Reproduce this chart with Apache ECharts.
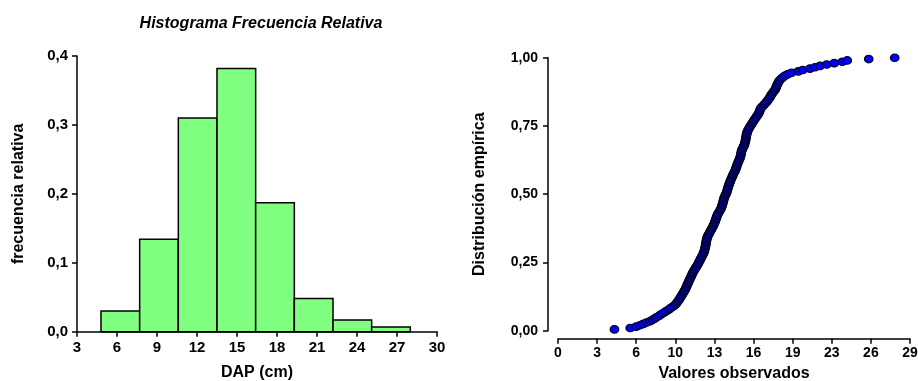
<!DOCTYPE html>
<html>
<head>
<meta charset="utf-8">
<script src="https://cdn.jsdelivr.net/npm/echarts@6/dist/echarts.min.js"></script>
<style>
  html, body { margin: 0; padding: 0; background: #ffffff; }
  #chart { width: 918px; height: 381px; }
</style>
</head>
<body>
<div id="chart"></div>
<script>
// Histogram: bin edges (cm) and relative frequency per bin
const binEdges = [4.8, 7.7, 10.6, 13.5, 16.4, 19.3, 22.2, 25.1, 28.0];
const relFreq = [0.030, 0.134, 0.310, 0.382, 0.187, 0.048, 0.017, 0.007];

// Sorted DAP observations used for the empirical distribution
const observed = [
  4.65, 5.95, 6.45, 6.75, 7.03, 7.30, 7.60, 7.80, 7.98, 8.15,
  8.35, 8.50, 8.68, 8.85, 9.05, 9.20, 9.35, 9.52, 9.66, 9.75,
  9.84, 9.92, 10.00, 10.06, 10.13, 10.20, 10.27, 10.34, 10.40, 10.47,
  10.52, 10.57, 10.62, 10.67, 10.72, 10.77, 10.82, 10.87, 10.93, 10.98,
  11.03, 11.08, 11.14, 11.20, 11.27, 11.34, 11.41, 11.48, 11.54, 11.60,
  11.66, 11.71, 11.77, 11.83, 11.89, 11.95, 12.00, 12.04, 12.07, 12.10,
  12.13, 12.15, 12.17, 12.19, 12.21, 12.23, 12.25, 12.28, 12.32, 12.38,
  12.44, 12.50, 12.56, 12.62, 12.68, 12.74, 12.80, 12.85, 12.90, 12.94,
  12.98, 13.02, 13.06, 13.10, 13.14, 13.20, 13.27, 13.34, 13.40, 13.45,
  13.49, 13.53, 13.56, 13.59, 13.62, 13.65, 13.68, 13.72, 13.77, 13.83,
  13.88, 13.92, 13.95, 13.98, 14.01, 14.05, 14.09, 14.13, 14.17, 14.21,
  14.26, 14.31, 14.36, 14.41, 14.46, 14.52, 14.58, 14.62, 14.66, 14.70,
  14.74, 14.78, 14.82, 14.87, 14.92, 14.97, 15.01, 15.04, 15.07, 15.09,
  15.11, 15.13, 15.18, 15.24, 15.30, 15.35, 15.38, 15.41, 15.44, 15.46,
  15.48, 15.50, 15.52, 15.54, 15.57, 15.61, 15.66, 15.72, 15.78, 15.85,
  15.93, 16.00, 16.07, 16.14, 16.21, 16.29, 16.37, 16.45, 16.52, 16.58,
  16.62, 16.66, 16.70, 16.80, 16.92, 17.02, 17.12, 17.22, 17.30, 17.38,
  17.46, 17.52, 17.58, 17.66, 17.75, 17.84, 17.91, 17.96, 18.00, 18.05,
  18.10, 18.15, 18.22, 18.32, 18.45, 18.58, 18.72, 18.95, 19.25, 19.80,
  20.16, 20.76, 21.18, 21.59, 22.14, 22.76, 23.42, 23.83, 25.60, 27.74
];

// Axis ranges and tick spacing
const histX = { min: 3, max: 30, interval: 3 };
const histY = { min: 0, max: 0.4, interval: 0.1 };
const ecdfXMax = 29;
const ecdfXTickCount = 9;
const ecdfY = { min: 0, max: 1, interval: 0.25 };

const ecdfXTicks = [];
for (let k = 0; k <= ecdfXTickCount; k++) ecdfXTicks.push(k * ecdfXMax / ecdfXTickCount);

const FONT = '"Liberation Sans", Arial, sans-serif';
const black = '#000000';

function axisStyle(fontSize, margin) {
  return {
    axisLine: { show: true, onZero: false, lineStyle: { color: black, width: 1.5 } },
    axisTick: { show: true, length: 5, lineStyle: { color: black, width: 1.5 } },
    axisLabel: { color: black, fontFamily: FONT, fontWeight: 'bold', fontSize: fontSize, margin: margin },
    splitLine: { show: false },
    nameTextStyle: { color: black, fontFamily: FONT, fontWeight: 'bold', fontSize: 16 }
  };
}

const chart = echarts.init(document.getElementById('chart'), null, { renderer: 'canvas' });

const histData = relFreq.map((v, i) => [binEdges[i], binEdges[i + 1], v]);
const ecdfData = observed.map((v, i) => [v, (i + 1) / observed.length]);

const histXAxis = Object.assign(axisStyle(15, 9), {
  type: 'value', gridIndex: 0,
  min: histX.min, max: histX.max, interval: histX.interval,
  name: 'DAP (cm)', nameLocation: 'middle', nameGap: 33
});
const ecdfXAxis = Object.assign(axisStyle(14, 7), {
  type: 'value', gridIndex: 1, offset: 8,
  min: 0, max: ecdfXMax,
  name: 'Valores observados', nameLocation: 'middle', nameGap: 27
});
ecdfXAxis.axisTick.customValues = ecdfXTicks;
ecdfXAxis.axisLabel.customValues = ecdfXTicks;
ecdfXAxis.axisLabel.formatter = v => String(Math.round(v));

const histYAxis = Object.assign(axisStyle(15, 9), {
  type: 'value', gridIndex: 0,
  min: histY.min, max: histY.max, interval: histY.interval,
  name: 'frecuencia relativa', nameLocation: 'middle', nameGap: 50
});
histYAxis.axisLabel.formatter = v => v.toFixed(1).replace('.', ',');

const ecdfYAxis = Object.assign(axisStyle(14, 10), {
  type: 'value', gridIndex: 1, offset: 10,
  min: ecdfY.min, max: ecdfY.max, interval: ecdfY.interval,
  name: 'Distribución empírica', nameLocation: 'middle', nameGap: 60
});
ecdfYAxis.axisLabel.formatter = v => v.toFixed(2).replace('.', ',');

chart.setOption({
  backgroundColor: '#ffffff',
  animation: false,
  title: {
    text: 'Histograma Frecuencia Relativa',
    left: 256, top: 11, textAlign: 'center',
    textStyle: { color: black, fontFamily: FONT, fontWeight: 'bold', fontStyle: 'italic', fontSize: 16 }
  },
  grid: [
    { left: 77, right: 481, top: 56, bottom: 49.3, containLabel: false, outerBoundsMode: 'none' },
    { left: 558, right: 8, top: 57.7, bottom: 50.3, containLabel: false, outerBoundsMode: 'none' }
  ],
  xAxis: [histXAxis, ecdfXAxis],
  yAxis: [histYAxis, ecdfYAxis],
  series: [
    {
      type: 'custom',
      xAxisIndex: 0, yAxisIndex: 0,
      data: histData,
      encode: { x: [0, 1], y: 2 },
      renderItem: function (params, api) {
        const topLeft = api.coord([api.value(0), api.value(2)]);
        const bottomRight = api.coord([api.value(1), 0]);
        return {
          type: 'rect',
          shape: {
            x: topLeft[0], y: topLeft[1],
            width: bottomRight[0] - topLeft[0],
            height: bottomRight[1] - topLeft[1]
          },
          style: { fill: '#80ff80', stroke: black, lineWidth: 1.5 }
        };
      }
    },
    {
      type: 'scatter',
      xAxisIndex: 1, yAxisIndex: 1,
      data: ecdfData,
      symbol: 'circle',
      symbolSize: [8.5, 7.5],
      itemStyle: { color: '#0000ff', borderColor: '#000022', borderWidth: 1.2, opacity: 1 }
    }
  ]
});
</script>
</body>
</html>
